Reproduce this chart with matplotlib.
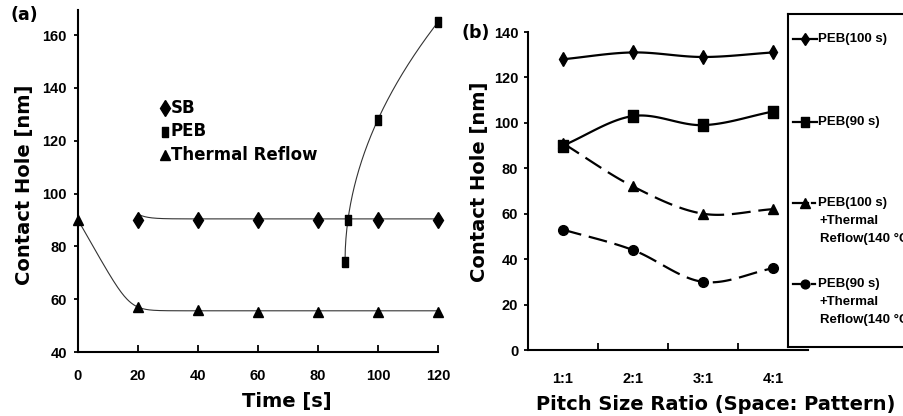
import numpy as np
import matplotlib
matplotlib.use("Agg")
import matplotlib.pyplot as plt
import matplotlib.font_manager as fm
from matplotlib.lines import Line2D

# ---------------- data ----------------
# panel (a)
sb_time = [20, 40, 60, 80, 100, 120]
sb_size = [90, 90, 90, 90, 90, 90]
peb_time = [89, 90, 100, 120]
peb_size = [74, 90, 128, 165]
tr_time = [0, 20, 40, 60, 80, 100, 120]
tr_size = [90, 57, 56, 55, 55, 55, 55]
legend_a = ["SB", "PEB", "Thermal Reflow"]
sb_hook = 1.8      # small start-up hook of the SB trendline
tr_slope = 2.0     # initial slope of the thermal-reflow trendline
tr_soft = 2.5      # softness of its knee

# panel (b)
ratios = ["1:1", "2:1", "3:1", "4:1"]
peb100 = [128, 131, 129, 131]
peb90 = [90, 103, 99, 105]
peb100_tr = [91, 72, 60, 62]
peb90_tr = [53, 44, 30, 36]
legend_b = [["PEB(100 s)"], ["PEB(90 s)"],
            ["PEB(100 s)", "+Thermal", "Reflow(140 \u00b0C)"],
            ["PEB(90 s)", "+Thermal", "Reflow(140 \u00b0C)"]]

BOLD = "DejaVu Sans"
TICKFP = fm.FontProperties(family=["Liberation Sans", "DejaVu Sans"], weight="bold", size=10.5)
LEGFP = fm.FontProperties(family=["Liberation Sans", "DejaVu Sans"], weight="bold", size=9.5)

rect = [(-0.33, -0.5), (0.33, -0.5), (0.33, 0.5), (-0.33, 0.5), (-0.33, -0.5)]
rect_b = [(-0.42, -0.5), (0.42, -0.5), (0.42, 0.5), (-0.42, 0.5), (-0.42, -0.5)]


def catmull(xs, ys, n=40):
    xs = np.asarray(xs, float); ys = np.asarray(ys, float)
    px = np.concatenate([[2 * xs[0] - xs[1]], xs, [2 * xs[-1] - xs[-2]]])
    py = np.concatenate([[2 * ys[0] - ys[1]], ys, [2 * ys[-1] - ys[-2]]])
    outx, outy = [], []
    for i in range(1, len(px) - 2):
        p0, p1, p2, p3 = (np.array([px[j], py[j]]) for j in (i - 1, i, i + 1, i + 2))
        c1 = p1 + (p2 - p0) / 6.0
        c2 = p2 - (p3 - p1) / 6.0
        t = np.linspace(0, 1, n)[:, None]
        b = ((1 - t) ** 3) * p1 + 3 * ((1 - t) ** 2) * t * c1 + 3 * (1 - t) * t ** 2 * c2 + t ** 3 * p2
        outx.extend(b[:, 0]); outy.extend(b[:, 1])
    return np.array(outx), np.array(outy)


fig = plt.figure(figsize=(9.04, 4.16), dpi=100)
W, H = 904.0, 416.0

# ---------------- panel (a) ----------------
axa = fig.add_axes([78 / W, 1 - 352 / H, 360 / W, 342 / H])
axa.set_xlim(0, 120)
axa.set_ylim(40, 169.5)

# SB trendline
xs = np.linspace(sb_time[0], sb_time[-1], 300)
sb_mean = np.mean(sb_size)
axa.plot(xs, sb_mean + 0.4 + sb_hook * np.exp(-(xs - sb_time[0]) / 3.0), color="#333333", lw=0.8)

# thermal-reflow trendline: linear decay softly merging into the plateau
plateau = np.mean(tr_size[2:]) + 0.4
x_knee = (tr_size[0] - plateau) / tr_slope
xs = np.linspace(tr_time[0], tr_time[-1], 500)
axa.plot(xs, plateau + tr_slope * tr_soft * np.logaddexp(0, (x_knee - xs) / tr_soft),
         color="#333333", lw=0.8)

# PEB trendline (square-root growth)
x0 = min(peb_time)
s = np.sqrt(np.asarray(peb_time, float) - x0)
pb = np.polyfit(s, peb_size, 1)
xs = np.linspace(x0, peb_time[-1], 300)
axa.plot(xs, np.polyval(pb, np.sqrt(xs - x0)), color="#333333", lw=0.8)

axa.plot(sb_time, sb_size, ls="none", marker="d", ms=8.5, color="black", clip_on=False)
axa.plot(peb_time, peb_size, ls="none", marker=rect, ms=7.5, color="black", clip_on=False)
axa.plot(tr_time, tr_size, ls="none", marker="^", ms=7, color="black", clip_on=False)

for sp in ("top", "right"):
    axa.spines[sp].set_visible(False)
for sp in ("left", "bottom"):
    axa.spines[sp].set_linewidth(1.5)
axa.set_xticks([0, 20, 40, 60, 80, 100, 120])
axa.set_yticks([40, 60, 80, 100, 120, 140, 160])
axa.tick_params(axis="x", direction="in", length=5, width=1.3, pad=12)
axa.tick_params(axis="y", direction="out", length=3, width=1.3, pad=5)
for lab in axa.get_xticklabels() + axa.get_yticklabels():
    lab.set_fontproperties(TICKFP)

axa.set_xlabel("Time [s]", fontsize=14, fontweight="bold", family=BOLD)
axa.xaxis.label.set_va("center")
axa.xaxis.set_label_coords((286.7 - 78) / 360, (352 - 401) / 342)
axa.set_ylabel("Contact Hole [nm]", fontsize=14, fontweight="bold", family=BOLD)
axa.yaxis.label.set_va("center")
axa.yaxis.set_label_coords((25 - 78) / 360, (352 - 185) / 342)

# legend (a) - marker keys + text
mk_a = ["d", rect, "^"]
ms_a = [8.5, 7.5, 7]
for i, (lab, mk, msz) in enumerate(zip(legend_a, mk_a, ms_a)):
    yy = (352 - (108 + 23.5 * i)) / 342
    axa.add_line(Line2D([(165 - 78) / 360], [yy], transform=axa.transAxes, ls="none",
                        marker=mk, ms=msz, color="black"))
    axa.text((171 - 78) / 360, yy, lab, transform=axa.transAxes, fontsize=12,
             fontweight="bold", family=BOLD, va="center", ha="left")

fig.text(24 / W, 1 - 15 / H, "(a)", fontsize=12.5, fontweight="bold", family=BOLD,
         ha="center", va="center")

# ---------------- panel (b) ----------------
axb = fig.add_axes([528 / W, 1 - 350 / H, 280 / W, 318 / H])
axb.set_xlim(0, 4)
axb.set_ylim(0, 140)
pos = np.arange(len(ratios)) + 0.5

series_b = [peb100, peb90, peb100_tr, peb90_tr]
mk_b = ["d", rect_b, "^", "o"]
ms_b = [7, 8.5, 7.5, 7]
dash_b = [None, None, (8.5, 3.5), (8.5, 3.5)]
for ys_, mk, msz, ds in zip(series_b, mk_b, ms_b, dash_b):
    cx, cy = catmull(pos, ys_)
    ln, = axb.plot(cx, cy, color="black", lw=1.6)
    if ds is not None:
        ln.set_dashes(ds)
    axb.plot(pos, ys_, ls="none", marker=mk, ms=msz, color="black", clip_on=False)

for sp in ("top", "right"):
    axb.spines[sp].set_visible(False)
for sp in ("left", "bottom"):
    axb.spines[sp].set_linewidth(1.5)
axb.set_yticks(np.arange(0, 141, 20))
axb.set_xticks([1, 2, 3])
axb.set_xticklabels([])
axb.set_xticks(pos, minor=True)
axb.set_xticklabels(ratios, minor=True)
axb.tick_params(axis="x", which="major", direction="in", length=5, width=1.3)
axb.tick_params(axis="x", which="minor", length=0, pad=16)
axb.tick_params(axis="y", direction="out", length=3, width=1.3, pad=4)
for lab in axb.get_yticklabels() + axb.get_xticklabels(minor=True):
    lab.set_fontproperties(TICKFP)

axb.set_xlabel("Pitch Size Ratio (Space: Pattern)", fontsize=14, fontweight="bold", family=BOLD)
axb.xaxis.label.set_va("center")
axb.xaxis.set_label_coords((715.5 - 528) / 280, (350 - 405) / 318)
axb.set_ylabel("Contact Hole [nm]", fontsize=14, fontweight="bold", family=BOLD)
axb.yaxis.label.set_va("center")
axb.yaxis.set_label_coords((480 - 528) / 280, (350 - 182) / 318)

fig.text(476 / W, 1 - 33 / H, "(b)", fontsize=12.5, fontweight="bold", family=BOLD,
         ha="center", va="center")

# legend (b) as framed inset
axl = fig.add_axes([788 / W, 1 - 347 / H, 140 / W, 333 / H])
axl.set_xlim(0, 140)
axl.set_ylim(333, 0)
axl.set_xticks([]); axl.set_yticks([])
for sp in axl.spines.values():
    sp.set_linewidth(1.5)
key_y = [25, 108, 189, 270]
for ky, mk, msz, ds, lines in zip(key_y, mk_b, ms_b, dash_b, legend_b):
    if ds is None:
        axl.plot([5, 29], [ky, ky], color="black", lw=1.6)
    else:
        axl.plot([5, 20], [ky, ky], color="black", lw=1.6)
        axl.plot([24, 27], [ky, ky], color="black", lw=1.6)
    axl.plot([17], [ky], ls="none", marker=mk, ms=msz * 0.9, color="black")
    for j, txt in enumerate(lines):
        axl.text(30 + (2 if j else 0), ky + 18 * j, txt, fontproperties=LEGFP,
                 va="center", ha="left")

fig.savefig("out.png", dpi=100)
